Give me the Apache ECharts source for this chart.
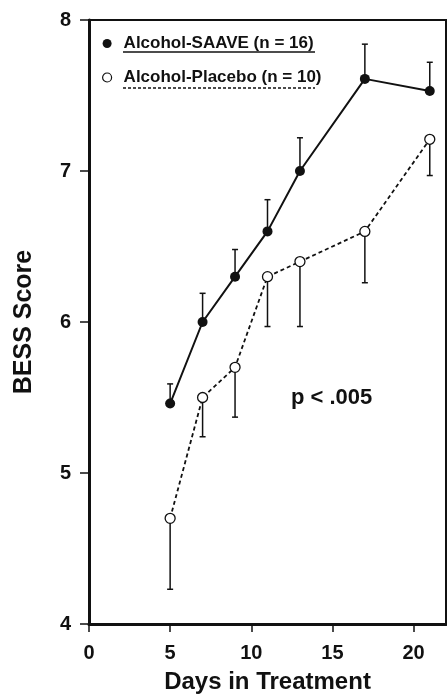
<!DOCTYPE html>
<html>
<head>
<meta charset="utf-8">
<script src="https://cdn.jsdelivr.net/npm/echarts@6/dist/echarts.min.js"></script>
<style>html,body{margin:0;padding:0;background:#fff;}#c{width:447px;height:699px;}</style>
</head>
<body>
<div id="c"></div>
<script>
const days = [5, 7, 9, 11, 13, 17, 21];
const saave = [5.46, 6.00, 6.30, 6.60, 7.00, 7.61, 7.53];
const saaveErrTop = [5.59, 6.19, 6.48, 6.81, 7.22, 7.84, 7.72];
const placebo = [4.70, 5.50, 5.70, 6.30, 6.40, 6.60, 7.21];
const placeboErrBottom = [4.23, 5.24, 5.37, 5.97, 5.97, 6.26, 6.97];
const seriesNames = ['Alcohol-SAAVE (n = 16)', 'Alcohol-Placebo (n = 10)'];
const xTitle = 'Days in Treatment';
const yTitle = 'BESS Score';
const note = 'p < .005';

const FONT = '"Liberation Sans", Arial, sans-serif';
const INK = '#111';

function errRender(params, api) {
  const x = api.value(0), y0 = api.value(1), y1 = api.value(2);
  const p0 = api.coord([x, y0]);
  const p1 = api.coord([x, y1]);
  const cap = 3;
  return {
    type: 'group',
    children: [
      { type: 'line', shape: { x1: p0[0], y1: p0[1], x2: p1[0], y2: p1[1] }, style: { stroke: INK, lineWidth: 1.5 } },
      { type: 'line', shape: { x1: p1[0] - cap, y1: p1[1], x2: p1[0] + cap, y2: p1[1] }, style: { stroke: INK, lineWidth: 1.5 } }
    ]
  };
}

const chart = echarts.init(document.getElementById('c'), null, { renderer: 'canvas' });
chart.setOption({
  animation: false,
  backgroundColor: '#fff',
  textStyle: { fontFamily: FONT, color: INK },
  grid: { left: 89, right: 1, top: 20, bottom: 75, show: true, borderColor: INK, borderWidth: 2, backgroundColor: 'transparent' },
  legend: {
    orient: 'vertical',
    left: 102,
    top: 35,
    padding: 0,
    itemGap: 17,
    itemWidth: 9,
    itemHeight: 9,
    textStyle: { fontFamily: FONT, fontSize: 17, fontWeight: 'bold', color: INK, padding: [0, 0, 0, 7] },
    data: [
      { name: seriesNames[0], icon: 'circle', itemStyle: { color: INK, borderWidth: 0 } },
      { name: seriesNames[1], icon: 'circle', itemStyle: { color: '#fff', borderColor: INK, borderWidth: 1.2 } }
    ]
  },
  xAxis: {
    type: 'value', min: 0, max: 22, interval: 5,
    name: xTitle, nameLocation: 'middle', nameGap: 46,
    nameTextStyle: { fontFamily: FONT, fontSize: 24, fontWeight: 'bold', color: INK },
    axisLine: { lineStyle: { color: INK, width: 3 } },
    axisTick: { length: 8, lineStyle: { color: INK, width: 1.5 } },
    axisLabel: { fontFamily: FONT, fontSize: 20, fontWeight: 'bold', color: INK, margin: 19, showMaxLabel: false },
    splitLine: { show: false }
  },
  yAxis: {
    type: 'value', min: 4, max: 8, interval: 1,
    name: yTitle, nameLocation: 'middle', nameGap: 52,
    nameTextStyle: { fontFamily: FONT, fontSize: 25, fontWeight: 'bold', color: INK },
    axisLine: { lineStyle: { color: INK, width: 3 } },
    axisTick: { length: 9, lineStyle: { color: INK, width: 1.5 } },
    axisLabel: { fontFamily: FONT, fontSize: 20, fontWeight: 'bold', color: INK, margin: 18 },
    splitLine: { show: false }
  },
  graphic: [
    { type: 'line', shape: { x1: 123, y1: 52, x2: 315, y2: 52 }, style: { stroke: INK, lineWidth: 1.5 } },
    { type: 'line', shape: { x1: 123, y1: 88, x2: 315, y2: 88 }, style: { stroke: INK, lineWidth: 1.5, lineDash: [3, 2] } },
    { type: 'text', left: 291, top: 387, style: { text: note, font: 'bold 22px ' + FONT, fill: INK } }
  ],
  series: [
    {
      type: 'custom', name: 'saaveErr', renderItem: errRender, z: 1,
      data: days.map((d, i) => [d, saave[i], saaveErrTop[i]]),
      encode: { x: 0, y: [1, 2] }, silent: true
    },
    {
      type: 'custom', name: 'placeboErr', renderItem: errRender, z: 1,
      data: days.map((d, i) => [d, placebo[i], placeboErrBottom[i]]),
      encode: { x: 0, y: [1, 2] }, silent: true
    },
    {
      name: seriesNames[0], type: 'line', z: 3,
      data: days.map((d, i) => [d, saave[i]]),
      symbol: 'circle', symbolSize: 10,
      itemStyle: { color: INK },
      lineStyle: { color: INK, width: 2 }
    },
    {
      name: seriesNames[1], type: 'line', z: 3,
      data: days.map((d, i) => [d, placebo[i]]),
      symbol: 'circle', symbolSize: 10,
      itemStyle: { color: '#fff', borderColor: INK, borderWidth: 1.3 },
      lineStyle: { color: INK, width: 1.8, type: [4, 3] }
    }
  ]
});
</script>
</body>
</html>
